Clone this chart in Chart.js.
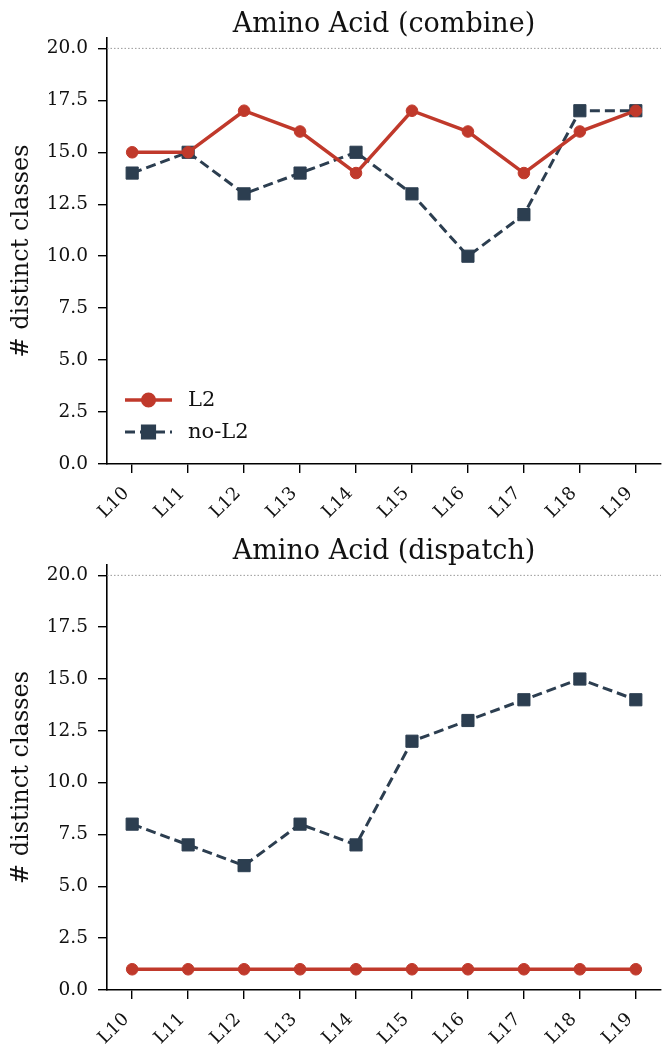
<!DOCTYPE html>
<html>
<head>
<meta charset="utf-8">
<title>Amino Acid</title>
<script src="https://cdn.jsdelivr.net/npm/chart.js@4.4.1/dist/chart.umd.min.js"></script>
<style>
  body { margin: 0; background: #fff; }
  canvas { display: block; }
</style>
</head>
<body>
<canvas id="topChart" width="662" height="527"></canvas>
<canvas id="bottomChart" width="662" height="520"></canvas>
<script>
// data
const layers = ['L10', 'L11', 'L12', 'L13', 'L14', 'L15', 'L16', 'L17', 'L18', 'L19'];
const combineL2   = [15, 15, 17, 16, 14, 17, 16, 14, 16, 17];
const combineNoL2 = [14, 15, 13, 14, 15, 13, 10, 12, 17, 17];
const dispatchL2   = [1, 1, 1, 1, 1, 1, 1, 1, 1, 1];
const dispatchNoL2 = [8, 7, 6, 8, 7, 12, 13, 14, 15, 14];
const yTicks = [0, 2.5, 5, 7.5, 10, 12.5, 15, 17.5, 20];
const refLine = 20;

const RED = '#c0392b';
const NAVY = '#2c3e50';
const SERIF = "'DejaVu Serif', serif";

function toPoints(arr) {
  return arr.map((v, i) => ({x: i, y: v}));
}

// dotted reference line at y = 20
const refLinePlugin = {
  id: 'refLine',
  beforeDatasetsDraw(chart) {
    const ctx = chart.ctx;
    const y = chart.scales.y.getPixelForValue(refLine);
    ctx.save();
    ctx.strokeStyle = '#999';
    ctx.lineWidth = 1;
    ctx.setLineDash([1.5, 2]);
    ctx.beginPath();
    ctx.moveTo(chart.chartArea.left, y);
    ctx.lineTo(chart.chartArea.right, y);
    ctx.stroke();
    ctx.restore();
  }
};

// legend drawn inside the plot, lower left
const innerLegend = {
  id: 'innerLegend',
  afterDraw(chart, args, opts) {
    if (!opts.show) return;
    const ctx = chart.ctx;
    const area = chart.chartArea;
    chart.data.datasets.forEach((ds, i) => {
      const y = area.bottom - 64 + i * 32;
      const x0 = area.left + 18, x1 = area.left + 65;
      ctx.save();
      ctx.strokeStyle = ds.borderColor;
      ctx.lineWidth = ds.borderWidth;
      ctx.setLineDash(ds.borderDash || []);
      ctx.beginPath();
      ctx.moveTo(x0, y);
      ctx.lineTo(x1, y);
      ctx.stroke();
      ctx.setLineDash([]);
      ctx.fillStyle = ds.backgroundColor;
      ctx.strokeStyle = ds.borderColor;
      Chart.helpers.drawPoint(ctx, {
        pointStyle: ds.pointStyle, radius: ds.pointRadius, borderWidth: 1
      }, (x0 + x1) / 2, y);
      ctx.fillStyle = '#111';
      ctx.font = '21px ' + SERIF;
      ctx.textBaseline = 'middle';
      ctx.fillText(ds.label, area.left + 81, y + 1);
      ctx.restore();
    });
  }
};

function makeChart(id, title, l2, noL2, showLegend, xAxisHeight) {
  return new Chart(document.getElementById(id), {
    type: 'line',
    data: {
      datasets: [{
        label: 'L2',
        data: toPoints(l2),
        borderColor: RED,
        backgroundColor: RED,
        pointBackgroundColor: RED,
        pointBorderColor: RED,
        borderWidth: 3.5,
        pointStyle: 'circle',
        pointRadius: 5.8,
        pointBorderWidth: 1
      }, {
        label: 'no-L2',
        data: toPoints(noL2),
        borderColor: NAVY,
        backgroundColor: NAVY,
        pointBackgroundColor: NAVY,
        pointBorderColor: NAVY,
        borderWidth: 3,
        borderDash: [10, 5],
        pointStyle: 'rect',
        pointRadius: 8.6,
        pointBorderWidth: 1
      }]
    },
    options: {
      responsive: false,
      animation: false,
      layout: { autoPadding: false, padding: { left: 0, right: 1, top: 0, bottom: 0 } },
      plugins: {
        legend: { display: false },
        tooltip: { enabled: false },
        title: {
          display: true,
          text: title,
          fullSize: false,
          color: '#111',
          font: { family: SERIF, size: 27, weight: 'normal', lineHeight: 1 },
          padding: { top: 11, bottom: 0 }
        },
        innerLegend: { show: showLegend }
      },
      scales: {
        x: {
          type: 'linear',
          min: -0.45,
          max: 9.45,
          afterBuildTicks(scale) {
            scale.ticks = layers.map((l, i) => ({ value: i }));
          },
          afterFit(scale) {
            scale.height = xAxisHeight;
            scale.paddingLeft = 0;
            scale.paddingRight = 0;
          },
          grid: { drawOnChartArea: false, drawTicks: true, tickLength: 9, color: '#000', lineWidth: 1.4 },
          border: { display: true, color: '#000', width: 1.6 },
          ticks: {
            autoSkip: false,
            minRotation: 45,
            maxRotation: 45,
            padding: 10,
            labelOffset: -6,
            color: '#111',
            font: { family: SERIF, size: 18 },
            callback: (v) => layers[v]
          }
        },
        y: {
          min: 0,
          max: 20.5,
          afterBuildTicks(scale) {
            scale.ticks = yTicks.map(v => ({ value: v }));
          },
          afterFit(scale) {
            scale.width = 107;
            scale.paddingTop = 0;
            scale.paddingBottom = 0;
          },
          grid: { drawOnChartArea: false, drawTicks: true, tickLength: 9, color: '#000', lineWidth: 1.4 },
          border: { display: true, color: '#000', width: 1.6 },
          ticks: {
            padding: 10,
            color: '#111',
            font: { family: SERIF, size: 18.5 },
            callback: (v) => v.toFixed(1)
          },
          title: {
            display: true,
            text: '# distinct classes',
            color: '#111',
            font: { family: SERIF, size: 24, lineHeight: 1.2 },
            padding: { top: 7, bottom: 0 }
          }
        }
      }
    },
    plugins: [refLinePlugin, innerLegend]
  });
}

makeChart('topChart', 'Amino Acid (combine)', combineL2, combineNoL2, true, 63);
makeChart('bottomChart', 'Amino Acid (dispatch)', dispatchL2, dispatchNoL2, false, 57);
</script>
</body>
</html>
